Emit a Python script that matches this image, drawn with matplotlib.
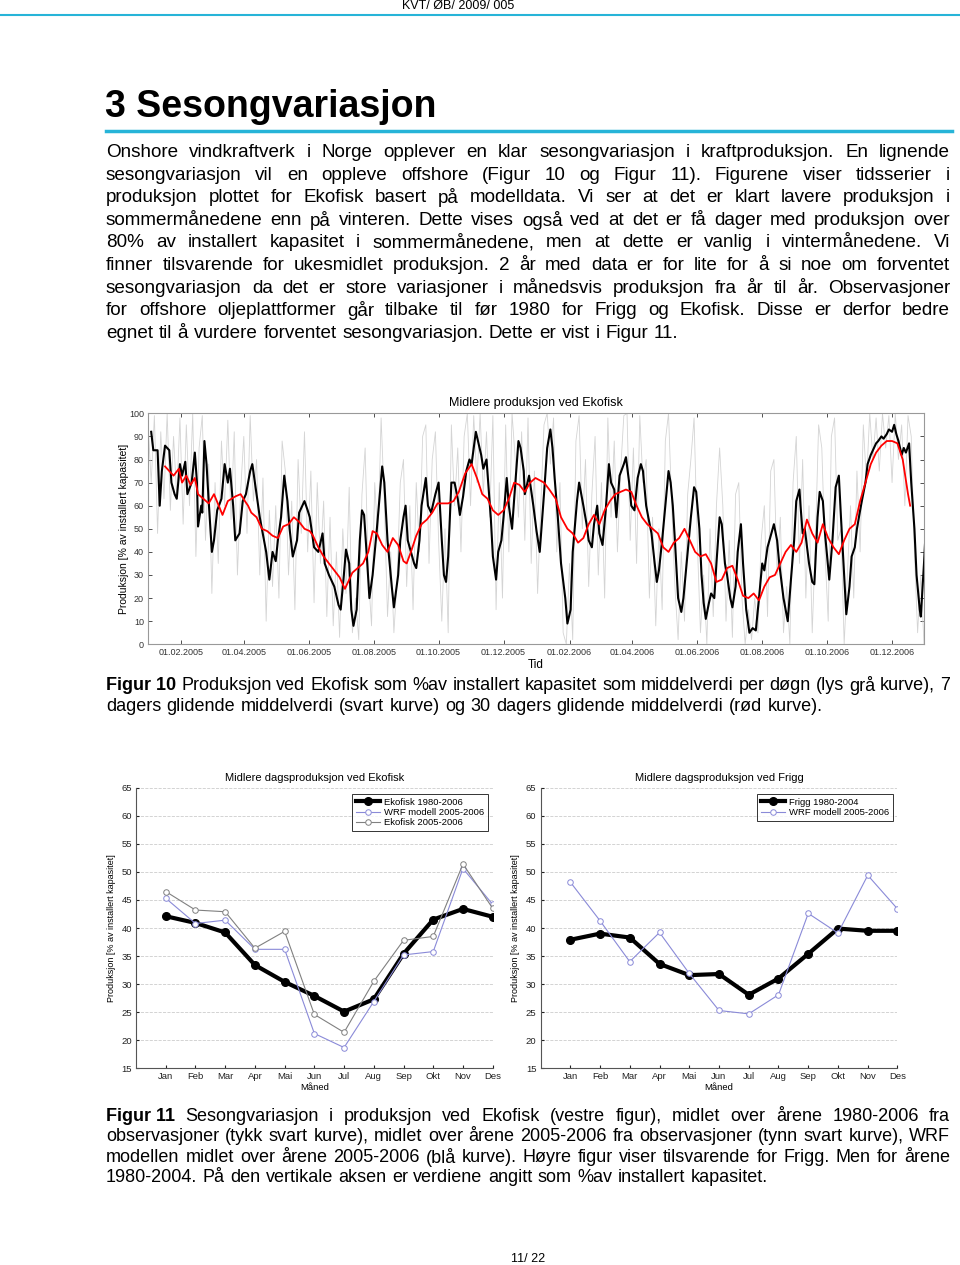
import matplotlib
matplotlib.use("Agg")
import numpy as np
import matplotlib.pyplot as plt
import matplotlib.dates as mdates
from matplotlib import font_manager

# ---- data ----
# 7-day running mean (black), day offset from 01.01.2005 and value [%]
black_day = [3, 5, 9, 11, 13, 16, 20, 22, 25, 27, 30, 32, 35, 37, 41, 44, 46, 47, 50, 51,
             53, 55, 57, 60, 62, 65, 69, 72, 75, 77, 80, 82, 86, 89, 92, 96, 98, 101, 105, 107,
             111, 114, 117, 120, 122, 125, 128, 131, 133, 136, 140, 142, 145, 147, 150, 152, 156, 160, 164, 166,
             170, 175, 179, 181, 184, 186, 189, 191, 193, 196, 199, 201, 203, 206, 208, 211, 215, 220, 222, 225,
             229, 231, 235, 237, 240, 242, 244, 247, 250, 252, 255, 257, 261, 263, 266, 270, 273, 276, 278, 280,
             282, 285, 288, 291, 293, 296, 299, 302, 304, 308, 310, 313, 315, 318, 322, 324, 327, 329, 332, 334,
             337, 339, 342, 344, 348, 350, 353, 354, 358, 362, 365, 368, 372, 375, 378, 380, 382, 385, 388, 392,
             394, 397, 399, 403, 405, 407, 409, 412, 414, 417, 419, 422, 424, 427, 430, 433, 435, 438, 440, 443,
             447, 449, 452, 454, 457, 460, 463, 465, 468, 470, 473, 476, 478, 480, 483, 486, 489, 491, 493, 495,
             498, 501, 503, 507, 510, 513, 515, 518, 520, 522, 524, 527, 529, 532, 534, 537, 539, 542, 544, 547,
             549, 552, 554, 557, 559, 562, 565, 568, 571, 574, 577, 579, 582, 585, 588, 591, 593, 597, 601, 604,
             607, 609, 612, 613, 615, 617, 621, 624, 626, 629, 631, 634, 636, 640, 643, 646, 649, 651, 654, 656,
             659, 661, 664, 666, 669, 671, 674, 676, 679, 681, 684, 686, 689, 691, 694, 696, 699, 701, 703, 705,
             708, 710, 712, 715, 717, 720, 722, 725, 726, 729, 730]
black_val = [92, 84, 84, 60, 75, 86, 84, 70, 65, 63, 78, 73, 79, 65, 70, 83, 70, 51, 60, 57,
             88, 78, 62, 40, 45, 58, 63, 78, 70, 76, 60, 45, 48, 62, 65, 75, 78, 68, 55, 50,
             40, 28, 40, 36, 45, 55, 73, 62, 50, 38, 45, 57, 60, 62, 58, 55, 42, 40, 48, 35,
             30, 25, 17, 15, 30, 41, 35, 15, 8, 15, 45, 58, 56, 35, 20, 30, 50, 77, 70, 45,
             25, 16, 30, 45, 55, 60, 45, 40, 35, 33, 45, 60, 72, 60, 57, 65, 70, 45, 30, 27,
             38, 70, 70, 63, 56, 64, 75, 80, 78, 92, 88, 82, 76, 80, 55, 38, 28, 40, 45, 55,
             72, 60, 50, 63, 88, 85, 75, 65, 73, 60, 49, 40, 65, 85, 93, 85, 72, 55, 35, 20,
             9, 15, 40, 62, 70, 65, 60, 52, 45, 42, 52, 60, 48, 43, 58, 78, 70, 67, 55, 73,
             78, 81, 70, 60, 58, 72, 78, 75, 60, 55, 48, 35, 27, 32, 45, 60, 75, 70, 60, 45,
             20, 14, 20, 40, 55, 68, 66, 50, 30, 18, 11, 18, 22, 20, 35, 55, 52, 35, 30, 20,
             16, 25, 40, 52, 35, 15, 5, 7, 6, 20, 35, 32, 42, 47, 52, 45, 35, 20, 10, 28,
             45, 62, 67, 60, 48, 50, 35, 27, 26, 55, 66, 62, 48, 28, 45, 68, 73, 55, 30, 13,
             25, 38, 42, 50, 58, 63, 70, 78, 82, 84, 87, 88, 90, 89, 91, 93, 92, 95, 91, 88,
             82, 85, 83, 87, 70, 50, 30, 15, 12, 35, 44]

# 30-day running mean (red)
red_day = [16, 20, 24, 29, 32, 36, 40, 44, 47, 52, 57, 62, 70, 75, 82, 87, 91, 94, 97, 102,
           107, 112, 117, 122, 127, 132, 137, 142, 147, 152, 155, 160, 165, 170, 175, 180, 185, 189, 192, 197,
           202, 207, 211, 215, 220, 225, 230, 235, 240, 243, 247, 252, 257, 262, 267, 272, 277, 282, 287, 292,
           298, 304, 309, 314, 319, 324, 329, 334, 339, 344, 349, 354, 359, 364, 372, 377, 383, 388, 394, 399,
           404, 409, 414, 419, 424, 429, 434, 439, 444, 449, 454, 459, 464, 469, 474, 479, 484, 489, 494, 499,
           504, 509, 514, 519, 524, 529, 534, 539, 544, 549, 554, 559, 564, 569, 574, 579, 584, 589, 594, 599,
           604, 609, 614, 619, 624, 629, 634, 639, 644, 649, 654, 659, 664, 669, 674, 679, 684, 689, 694, 699,
           704, 709, 714, 716]
red_val = [77, 75, 73, 76, 70, 73, 69, 72, 65, 63, 61, 65, 56, 62, 64, 65, 62, 60, 57, 55,
           50, 49, 47, 46, 51, 52, 55, 53, 50, 49, 47, 42, 38, 35, 32, 29, 24, 28, 31, 33,
           35, 40, 49, 48, 43, 40, 46, 43, 36, 35, 40, 47, 52, 54, 57, 61, 61, 61, 62, 66,
           74, 78, 72, 65, 63, 58, 56, 58, 63, 70, 69, 66, 70, 72, 70, 67, 63, 55, 50, 48,
           44, 46, 52, 56, 52, 58, 62, 65, 66, 67, 66, 60, 55, 52, 50, 48, 42, 40, 44, 46,
           50, 45, 40, 38, 39, 35, 27, 28, 33, 34, 28, 21, 20, 22, 19, 25, 29, 30, 35, 40,
           43, 40, 44, 54, 48, 44, 52, 46, 42, 39, 45, 50, 52, 62, 70, 78, 83, 86, 88, 88,
           87, 80, 65, 60]

# daily mean (light grey), every 3rd day from 01.01.2005
grey_val = [96, 70, 99, 48, 92, 63, 100, 58, 90, 64,
            98, 52, 95, 60, 100, 38, 85, 99, 45, 78,
            22, 70, 35, 88, 60, 97, 54, 92, 30, 66,
            90, 48, 99, 62, 80, 30, 72, 10, 58, 25,
            60, 20, 88, 75, 30, 62, 15, 80, 48, 92,
            40, 75, 18, 70, 35, 62, 12, 55, 8, 40,
            3, 50, 22, 68, 5, 20, 2, 65, 85, 30,
            8, 70, 45, 98, 62, 12, 40, 5, 28, 70,
            80, 25, 60, 15, 70, 40, 90, 95, 35, 80,
            92, 45, 10, 50, 5, 95, 60, 85, 40, 90,
            100, 60, 99, 70, 100, 65, 92, 55, 99, 15,
            70, 20, 95, 40, 100, 80, 55, 92, 45, 98,
            35, 75, 22, 60, 95, 100, 78, 98, 40, 70,
            5, 0, 35, 2, 88, 99, 50, 80, 25, 65,
            90, 30, 70, 20, 98, 55, 88, 40, 75, 99,
            100, 45, 85, 35, 99, 70, 80, 20, 55, 8,
            50, 15, 88, 100, 60, 25, 2, 40, 10, 65,
            80, 98, 45, 5, 30, 0, 50, 12, 60, 85,
            60, 10, 45, 3, 65, 70, 20, 0, 15, 2,
            20, 5, 45, 60, 12, 75, 80, 30, 55, 5,
            25, 0, 70, 90, 35, 80, 20, 60, 5, 45,
            95, 85, 40, 10, 90, 98, 45, 50, 0, 30,
            60, 20, 75, 40, 95, 70, 100, 80, 98, 75,
            100, 85, 99, 70, 100, 80, 95, 60, 99, 90,
            40, 5, 30, 0]

months = ['Jan', 'Feb', 'Mar', 'Apr', 'Mai', 'Jun', 'Jul', 'Aug', 'Sep', 'Okt', 'Nov', 'Des']
eko_obs = [42.1, 40.9, 39.2, 33.4, 30.4, 27.9, 25.1, 27.3, 35.4, 41.5, 43.4, 42.0]
eko_wrf = [45.3, 40.8, 41.4, 36.2, 36.2, 21.2, 18.7, 26.9, 35.2, 35.8, 50.6, 44.2]
eko_0506 = [46.5, 43.2, 42.9, 36.4, 39.4, 24.6, 21.4, 30.5, 37.8, 38.5, 51.4, 43.5]
frigg_obs = [37.9, 39.0, 38.3, 33.6, 31.6, 31.8, 28.1, 31.0, 35.4, 39.9, 39.5, 39.5]
frigg_wrf = [48.2, 41.3, 34.0, 39.2, 31.9, 25.3, 24.7, 28.1, 42.6, 39.1, 49.4, 43.4]

body_lines = [
    "Onshore vindkraftverk i Norge opplever en klar sesongvariasjon i kraftproduksjon. En lignende",
    "sesongvariasjon vil en oppleve offshore (Figur 10 og Figur 11). Figurene viser tidsserier i",
    "produksjon plottet for Ekofisk basert på modelldata. Vi ser at det er klart lavere produksjon i",
    "sommermånedene enn på vinteren. Dette vises også ved at det er få dager med produksjon over",
    "80% av installert kapasitet i sommermånedene, men at dette er vanlig i vintermånedene. Vi",
    "finner tilsvarende for ukesmidlet produksjon. 2 år med data er for lite for å si noe om forventet",
    "sesongvariasjon da det er store variasjoner i månedsvis produksjon fra år til år. Observasjoner",
    "for offshore oljeplattformer går tilbake til før 1980 for Frigg og Ekofisk. Disse er derfor bedre",
    "egnet til å vurdere forventet sesongvariasjon. Dette er vist i Figur 11.",
]
cap10_lines = [
    "Produksjon ved Ekofisk som %av installert kapasitet som middelverdi per døgn (lys grå kurve), 7",
    "dagers glidende middelverdi (svart kurve) og 30 dagers glidende middelverdi (rød kurve).",
]
cap11_lines = [
    "Sesongvariasjon i produksjon ved Ekofisk (vestre figur), midlet over årene 1980-2006 fra",
    "observasjoner (tykk svart kurve), midlet over årene 2005-2006 fra observasjoner (tynn svart kurve), WRF",
    "modellen midlet over årene 2005-2006 (blå kurve). Høyre figur viser tilsvarende for Frigg. Men for årene",
    "1980-2004. På den vertikale aksen er verdiene angitt som %av installert kapasitet.",
]

# ---- fonts / page ----
names = {f.name for f in font_manager.fontManager.ttflist}
NARROW = 'Liberation Sans Narrow' if 'Liberation Sans Narrow' in names else 'Liberation Sans'
ARIAL = 'Liberation Sans'

W, H = 960, 1265
fig = plt.figure(figsize=(W / 100, H / 100), dpi=100)
fig.patch.set_facecolor('white')
rend = fig.canvas.get_renderer()
CYAN = '#27b4d8'


def fx(x):
    return x / W


def fy(y):
    return 1 - y / H


def put_line(y, words, justify, size, x0=106, x1=950):
    objs = []
    for w, bold in words:
        objs.append(fig.text(0, fy(y), w, fontsize=size, family=NARROW,
                             fontweight='bold' if bold else 'normal', va='center', ha='left'))
    widths = [o.get_window_extent(rend).width for o in objs]
    if justify and len(objs) > 1:
        gap = (x1 - x0 - sum(widths)) / (len(objs) - 1)
    else:
        gap = size * 100 / 72 * 0.3
    x = x0
    for o, wd in zip(objs, widths):
        o.set_x(fx(x))
        x += wd + gap


def paragraph(lines, y0, dy, size, label=None):
    for i, line in enumerate(lines):
        words = [(w, False) for w in line.split(' ')]
        if i == 0 and label:
            words = [(label, True)] + words
        put_line(y0 + i * dy, words, i < len(lines) - 1, size)


# header
fig.text(fx(458), fy(6), "KVT/ ØB/ 2009/ 005", fontsize=9, family=NARROW, ha='center', va='center')
fig.add_artist(plt.Line2D([fx(0), fx(960)], [fy(15), fy(15)], color=CYAN, lw=1.5))
fig.text(fx(105), fy(107), "3 Sesongvariasjon", fontsize=27, family=NARROW, fontweight='bold',
         ha='left', va='center')
fig.add_artist(plt.Line2D([fx(106), fx(952)], [fy(131), fy(131)], color=CYAN, lw=2.5))

paragraph(body_lines, 152.5, 22.6, 13.6)
paragraph(cap10_lines, 685.5, 21, 13.0, label="Figur 10")
paragraph(cap11_lines, 1116.5, 20.4, 13.0, label="Figur 11")
fig.text(fx(528), fy(1259), "11/ 22", fontsize=9, family=NARROW, ha='center', va='center')

# ---- top chart ----
t0 = np.datetime64('2005-01-01')
ax = fig.add_axes([fx(148), fy(644.3), (924 - 148) / W, (644.3 - 413.3) / H])
grey_day = np.arange(len(grey_val)) * 3
ax.plot(t0 + grey_day.astype('timedelta64[D]'), grey_val, color='#d4d4d4', lw=0.6)
ax.plot(t0 + np.array(black_day).astype('timedelta64[D]'), black_val, color='black', lw=1.5)
ax.plot(t0 + np.array(red_day).astype('timedelta64[D]'), red_val, color='red', lw=1.3)
ax.set_xlim(np.datetime64('2005-01-01'), np.datetime64('2006-12-31'))
ax.set_ylim(0, 100)
ax.set_yticks(range(0, 101, 10))
ax.xaxis.set_major_locator(mdates.MonthLocator(bymonth=[2, 4, 6, 8, 10, 12]))
ax.xaxis.set_major_formatter(mdates.DateFormatter('%d.%m.%Y'))
ax.tick_params(direction='in', top=True, right=True, length=3, width=0.6, labelsize=6.5,
               colors='#333333', pad=3)
for lab in ax.get_xticklabels() + ax.get_yticklabels():
    lab.set_family(NARROW)
for s in ax.spines.values():
    s.set_color('#999999')
    s.set_linewidth(0.8)
ax.set_title("Midlere produksjon ved Ekofisk", fontsize=9, family=NARROW, pad=5)
ax.set_xlabel("Tid", fontsize=8.5, family=NARROW, labelpad=1)
ax.set_ylabel("Produksjon [% av installert kapasitet]", fontsize=7.5, family=ARIAL, labelpad=0)


# ---- bottom charts ----
def month_plot(rect, title, series):
    a = fig.add_axes(rect)
    x = np.arange(1, 13)
    for vals, label, style in series:
        a.plot(x, vals, label=label, **style)
    a.set_xlim(0, 12)
    a.set_ylim(15, 65)
    a.set_yticks(range(15, 66, 5))
    a.set_xticks(x)
    a.set_xticklabels(months)
    a.grid(axis='y', color='#cccccc', ls='--', lw=0.6)
    a.set_axisbelow(True)
    a.spines['top'].set_visible(False)
    a.spines['right'].set_visible(False)
    for s in ('left', 'bottom'):
        a.spines[s].set_color('#555555')
        a.spines[s].set_linewidth(0.8)
    a.tick_params(direction='in', length=2, labelsize=6.8, pad=3, colors='#222222')
    for lab in a.get_xticklabels() + a.get_yticklabels():
        lab.set_family(ARIAL)
    a.set_title(title, fontsize=8, family=ARIAL, pad=5)
    a.set_xlabel("Måned", fontsize=6.8, family=ARIAL, labelpad=1)
    a.set_ylabel("Produksjon [% av installert kapasitet]", fontsize=6.5, family=ARIAL, labelpad=4)
    leg = a.legend(loc='upper right', bbox_to_anchor=(1.0, 0.995), frameon=True,
                   fancybox=False, edgecolor='black', handlelength=2.6, borderpad=0.4,
                   labelspacing=0.15, handletextpad=0.4, prop={'family': ARIAL, 'size': 6.8})
    leg.get_frame().set_linewidth(0.7)
    return a


thick = dict(color='black', lw=3, marker='o', ms=5.5, mfc='black', mec='black')
blue = dict(color='#8a8ad8', lw=0.8, marker='o', ms=4, mfc='white', mec='#8a8ad8', mew=0.7)
grey = dict(color='#808080', lw=0.8, marker='o', ms=4, mfc='white', mec='#808080', mew=0.7)

month_plot([fx(136), fy(1068.3), (492.7 - 136) / W, (1068.3 - 787.7) / H],
           "Midlere dagsproduksjon ved Ekofisk",
           [(eko_obs, "Ekofisk 1980-2006", thick),
            (eko_wrf, "WRF modell 2005-2006", blue),
            (eko_0506, "Ekofisk 2005-2006", grey)])
month_plot([fx(540.5), fy(1068.3), (897.5 - 540.5) / W, (1068.3 - 787.7) / H],
           "Midlere dagsproduksjon ved Frigg",
           [(frigg_obs, "Frigg 1980-2004", thick),
            (frigg_wrf, "WRF modell 2005-2006", blue)])

fig.savefig("out.png", dpi=100)
